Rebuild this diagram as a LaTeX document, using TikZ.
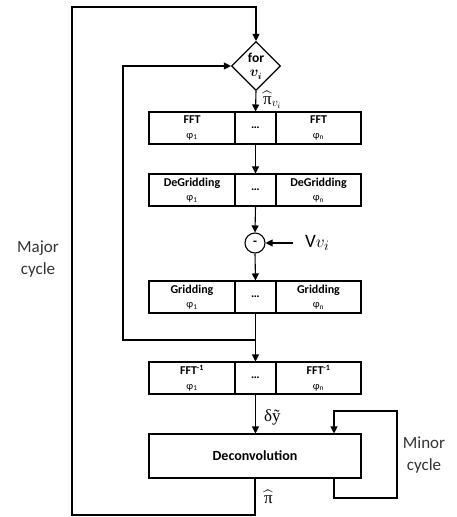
\documentclass[tikz,border=0pt]{standalone}
\usepackage{amsmath}
\usepackage{fontspec}
\setmainfont{Carlito}
\newfontfamily\symfont{Liberation Serif}
\usetikzlibrary{positioning,arrows.meta,shapes.geometric}

\tikzset{
  flow/.style={line width=1.1pt, -{Triangle[length=7pt,width=7pt]}},
  cell/.style={draw, line width=1.1pt, minimum height=32pt, inner sep=0pt, align=center, font=\fontsize{12}{14.5}\selectfont},
  decision/.style={draw, diamond, aspect=1, line width=1.1pt, minimum size=49pt, inner sep=0pt, align=center, font=\fontsize{13.5}{14.5}\selectfont\bfseries},
  cyclelabel/.style={align=center, text=black!80, font=\fontsize{17}{22}\selectfont}
}

\begin{document}
\begin{tikzpicture}[x=1pt, y=-1pt]
\useasboundingbox (0,0) rectangle (456,517);

\node[decision]	(for)	at (256,66)	{for\\$\boldsymbol{v_i}$};

\foreach \row/\y/\lbl in {fft/128/FFT, degrid/190/DeGridding, grid/297/Gridding, ifft/378/FFT\textsuperscript{-1}} {
  \node[cell, minimum width=86pt]	(\row-l)	at (192,\y)	{\textbf{\lbl}\\{\fontsize{10.5}{12}\selectfont φ\textsubscript{1}}};
  \node[cell, minimum width=41pt]	(\row-m)	at (255.5,\y)	{\textbf{…}};
  \node[cell, minimum width=85pt]	(\row-r)	at (318.5,\y)	{\textbf{\lbl}\\{\fontsize{10.5}{12}\selectfont φ\textsubscript{n}}};
}

\node[circle, draw, line width=1.1pt, minimum size=20pt, inner sep=0pt, font=\fontsize{13}{13}\selectfont\bfseries]	(minus)	at (255,243)	{-};
\node[cell, minimum width=212pt, minimum height=44pt, font=\fontsize{14}{15}\selectfont\bfseries]	(deconv)	at (255,456)	{Deconvolution};

\coordinate	(vin)	at (293,243);
\node[anchor=west, inner sep=0pt, font=\fontsize{19}{20}\selectfont]	(vlbl)	at (305,243)	{V$v_i$};
\node[anchor=west, inner sep=0pt, font=\fontsize{17}{18}\selectfont]	(pilbl)	at (263,100)	{$\widehat{\mbox{\symfont π}}_{v_i}$};
\node[anchor=west, inner sep=0pt, font=\fontsize{17}{18}\selectfont]	(dylbl)	at (264,417)	{\symfont δỹ};
\node[anchor=west, inner sep=0pt, font=\fontsize{17}{18}\selectfont]	(pihat)	at (264,497)	{$\widehat{\mbox{\symfont π}}$};
\node[cyclelabel]	(major)	at (38,259)	{Major\\cycle};
\node[cyclelabel]	(minor)	at (424,455)	{Minor\\cycle};

% main chain
\draw[flow]	(for.south)	--	(fft-m.north);
\draw[flow]	(fft-m.south)	--	(degrid-m.north);
\draw[flow]	(degrid-m.south)	--	(minus.north);
\draw[flow]	(vin)	--	(minus.east);
\draw[flow]	(minus.south)	--	(grid-m.north);
\draw[flow]	(grid-m.south)	--	(ifft-m.north);
\draw[flow]	(ifft-m.south)	--	(deconv.north -| ifft-m.south);

% inner loop (over v_i)
\coordinate	(split)	at (grid-m.south |- 0,340);
\draw[flow]	(split)	-|	(123,66)	--	(for.west);

% minor cycle
\draw[flow]	(deconv.south -| 334,0)	--	(334,498)	-|	(397,411)	-|	(deconv.north -| 334,0);

% major cycle
\draw[flow]	(deconv.south -| 255,0)	--	(255,515)	-|	(72,7)	-|	(for.north);
\end{tikzpicture}
\end{document}
